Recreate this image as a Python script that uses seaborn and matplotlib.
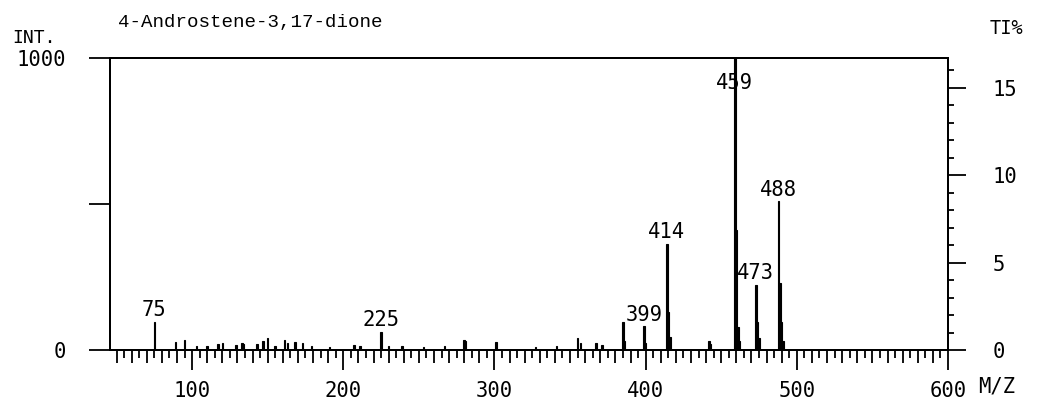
import matplotlib
matplotlib.use("Agg")
import matplotlib.pyplot as plt
import numpy as np
import pandas as pd
import seaborn as sns
from matplotlib.ticker import MultipleLocator, FixedLocator, NullFormatter

# Mass spectrum of the derivatised steroid
title = "4-Androstene-3,17-dione"
mz = [75, 89, 95, 103, 110, 117, 120, 129, 133, 134, 143, 147, 150, 155,
      161, 163, 168, 173, 179, 191, 207, 211, 225, 230, 239, 253, 267, 280,
      281, 301, 327, 341, 355, 357, 367, 371, 385, 386, 399, 400, 414, 415,
      416, 442, 443, 459, 460, 461, 462, 473, 474, 475, 488, 489, 490, 491]
intensity = [97, 27, 34, 15, 12, 20, 24, 18, 24, 22, 20, 30, 40, 15,
             34, 25, 27, 24, 12, 10, 18, 15, 63, 14, 12, 10, 12, 34,
             30, 27, 10, 12, 40, 25, 24, 18, 96, 30, 82, 25, 363, 130,
             45, 30, 20, 1000, 411, 79, 30, 223, 96, 40, 510, 230, 96, 30]
labeled_mz = [75, 225, 399, 414, 459, 473, 488]
base_peak_ti = 16.7   # base peak as percent of total ion current

mono = "DejaVu Sans Mono"
sns.set_style("ticks")
plt.rcParams["font.family"] = [mono]
plt.rcParams["axes.linewidth"] = 1.4
plt.rcParams["text.color"] = "black"
plt.rcParams["xtick.color"] = "black"
plt.rcParams["ytick.color"] = "black"

W, H = 1042, 403
fig = plt.figure(figsize=(W / 100, H / 100), dpi=100)
ax = fig.add_axes([110 / W, 53 / H, 838 / W, 292 / H])

df = pd.DataFrame({"mz": mz, "intensity": intensity})
sns.histplot(data=df, x="mz", weights="intensity", discrete=True, shrink=1.0,
             color="black", edgecolor="black", linewidth=0.8, alpha=1.0, ax=ax)

ax.set_xlim(45.7, 600)
ax.set_ylim(0, 1000)
ax.set_xlabel("")
ax.set_ylabel("")
for s in ax.spines.values():
    s.set_visible(True)
    s.set_linewidth(1.4)
    s.set_color("black")

# x axis: 100s long, 10s medium, odd 5s short
ax.xaxis.set_major_locator(MultipleLocator(100))
ax.xaxis.set_minor_locator(MultipleLocator(10))
ax.tick_params(axis="x", which="major", direction="out", length=14.4, width=1.3,
               pad=8, labelsize=14.8, colors="black")
ax.tick_params(axis="x", which="minor", direction="out", length=9.4, width=1.3)
sec = ax.secondary_xaxis("bottom")
sec.set_xticks(np.arange(55, 600, 10))
sec.xaxis.set_major_formatter(NullFormatter())
sec.tick_params(axis="x", direction="out", length=5.8, width=1.3, colors="black")
for s in sec.spines.values():
    s.set_visible(False)

# left intensity axis
ax.yaxis.set_major_locator(FixedLocator([0, 500, 1000]))
ax.set_yticklabels(["0", "", "1000"])
ax.tick_params(axis="y", which="major", direction="out", length=15, width=1.3,
               pad=17, labelsize=14.8, colors="black")

# right TI% axis
ax2 = ax.twinx()
ax2.set_ylim(0, base_peak_ti)
ax2.yaxis.set_major_locator(MultipleLocator(5))
ax2.yaxis.set_minor_locator(MultipleLocator(1))
ax2.tick_params(axis="y", which="major", direction="out", length=13, width=1.3,
                pad=19, labelsize=14.8, colors="black")
ax2.tick_params(axis="y", which="minor", direction="out", length=4.3, width=1.3)
for s in ax2.spines.values():
    s.set_linewidth(1.4)
    s.set_color("black")

# peak labels
for m in labeled_mz:
    v = intensity[mz.index(m)]
    if v >= 950:
        ax.annotate(str(m), (m, 1000), xytext=(0, -11), textcoords="offset points",
                    ha="center", va="top", fontsize=14.8, family=mono, color="black")
    else:
        ax.annotate(str(m), (m, v), xytext=(0, 4), textcoords="offset points",
                    ha="center", va="baseline", fontsize=14.8, family=mono,
                    color="black")

fig.text(118 / W, 1 - 23 / H, title, ha="left", va="center",
         fontsize=13.8, family="Liberation Mono", color="black")
fig.text(12 / W, 1 - 38 / H, "INT.", ha="left", va="center", fontsize=13,
         family=mono, color="black")
fig.text(990 / W, 1 - 28 / H, "TI%", ha="left", va="center", fontsize=13.5,
         family=mono, color="black")
fig.text(978 / W, 1 - 387 / H, "M/Z", ha="left", va="center", fontsize=14.8,
         family=mono, color="black")

fig.savefig("out.png", dpi=100)
